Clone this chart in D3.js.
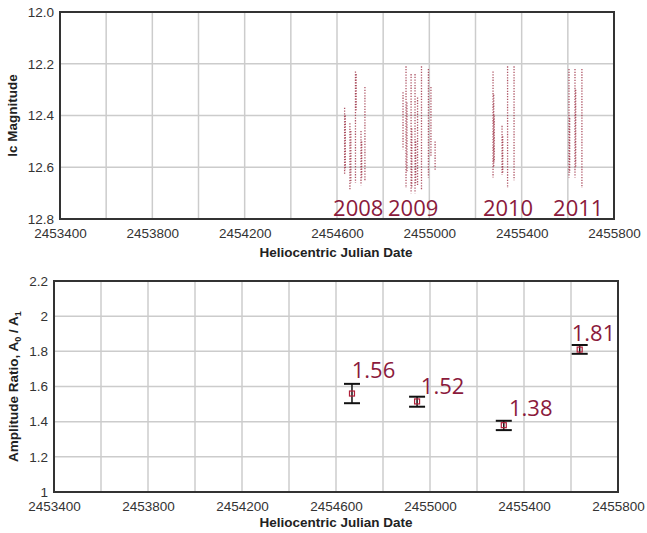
<!DOCTYPE html>
<html><head><meta charset="utf-8">
<script src="https://cdn.jsdelivr.net/npm/d3@7"></script>
<style>body{margin:0;background:#fff}svg{display:block}</style>
</head><body>
<svg id="c" width="647" height="533"></svg>
<script>
// ---- Data ----
const xTicks = [2453400, 2453800, 2454200, 2454600, 2455000, 2455400, 2455800];
const xGrid = [2453400,2453600,2453800,2454000,2454200,2454400,2454600,2454800,2455000,2455200,2455400,2455600,2455800];
const magTicks = [12.0, 12.2, 12.4, 12.6, 12.8];
const ratioTicks = [1, 1.2, 1.4, 1.6, 1.8, 2, 2.2];
// observing nights: [HJD, brightest mag, faintest mag]
const nights = [
  [2454633, 12.37, 12.63], [2454636, 12.40, 12.61], [2454656, 12.43, 12.69], [2454660, 12.46, 12.66],
  [2454680, 12.23, 12.66], [2454683, 12.24, 12.38], [2454704, 12.46, 12.67], [2454707, 12.50, 12.64],
  [2454721, 12.29, 12.65],
  [2454886, 12.31, 12.53], [2454899, 12.21, 12.68], [2454903, 12.35, 12.62], [2454921, 12.24, 12.70],
  [2454924, 12.45, 12.68], [2454938, 12.24, 12.70], [2454941, 12.50, 12.66], [2454949, 12.33, 12.67],
  [2454966, 12.21, 12.69], [2454996, 12.22, 12.64], [2455007, 12.29, 12.56], [2455025, 12.50, 12.61],
  [2455276, 12.23, 12.64], [2455279, 12.32, 12.60], [2455281, 12.40, 12.58], [2455315, 12.44, 12.63],
  [2455318, 12.48, 12.62], [2455339, 12.21, 12.68], [2455367, 12.21, 12.65],
  [2455605, 12.22, 12.64], [2455608, 12.41, 12.62], [2455631, 12.22, 12.64], [2455634, 12.30, 12.60],
  [2455661, 12.22, 12.68]
];
const seasons = ["2008", "2009", "2010", "2011"];
const seasonLabelX = [2454583, 2454821, 2455232, 2455536];
const seasonLabelMag = 12.788;

const ratioDates = [2454668, 2454945, 2455314, 2455637];
const ratios = [1.56, 1.515, 1.38, 1.81];
const ratioLo = [1.505, 1.485, 1.352, 1.786];
const ratioHi = [1.615, 1.542, 1.405, 1.836];
const ratioLabels = ["1.56", "1.52", "1.38", "1.81"];
const ratioLabelX = [2454667, 2454961, 2455336, 2455603];
const ratioLabelY = [1.648, 1.557, 1.434, 1.859];

// ---- Drawing ----
const svg = d3.select("#c");
const red = "#8b1a3c";
const tickFont = "Liberation Sans, Arial, sans-serif";

function bounds(x, y) {
  const [x0, x1] = x.range();
  const yr = y.range();
  return [x0, x1, Math.min(...yr), Math.max(...yr)];
}
function frame(g, x, y, yTicks, yFmt) {
  const [x0, x1, yTop, yBot] = bounds(x, y);
  g.append("g").selectAll("line").data(xGrid).join("line")
    .attr("x1", d => x(d)).attr("x2", d => x(d)).attr("y1", yTop).attr("y2", yBot)
    .attr("stroke", "#cccccc").attr("stroke-width", 1.5);
  g.append("g").selectAll("line").data(yTicks).join("line")
    .attr("x1", x0).attr("x2", x1).attr("y1", d => y(d)).attr("y2", d => y(d))
    .attr("stroke", "#cccccc").attr("stroke-width", 1.5);
  const ya = d3.axisLeft(y).tickValues(yTicks).tickFormat(yFmt).tickSize(0).tickPadding(6);
  g.append("g").attr("transform", `translate(${x0},0)`).call(ya)
    .call(a => a.select(".domain").remove())
    .selectAll("text").attr("font-family", tickFont).attr("font-size", 13.5).attr("fill", "#333");
  const xa = d3.axisBottom(x).tickValues(xTicks).tickFormat(d3.format("d")).tickSize(0).tickPadding(9);
  g.append("g").attr("transform", `translate(0,${yBot})`).call(xa)
    .call(a => a.select(".domain").remove())
    .selectAll("text").attr("font-family", tickFont).attr("font-size", 13.5).attr("fill", "#333");
}
function border(g, x, y) {
  const [x0, x1, yTop, yBot] = bounds(x, y);
  g.append("rect").attr("x", x0).attr("y", yTop).attr("width", x1 - x0).attr("height", yBot - yTop)
    .attr("fill", "none").attr("stroke", "#333").attr("stroke-width", 2);
}

// Top panel
const xT = d3.scaleLinear().domain([2453400, 2455800]).range([60, 614]);
const yT = d3.scaleLinear().domain([12.0, 12.8]).range([12, 219]);
const gT = svg.append("g");
frame(gT, xT, yT, magTicks, d3.format(".1f"));
gT.append("g").selectAll("line").data(nights).join("line")
  .attr("x1", d => xT(d[0])).attr("x2", d => xT(d[0]))
  .attr("y1", d => yT(d[1])).attr("y2", d => yT(d[2]))
  .attr("stroke", "#9a2c40").attr("stroke-width", 1.3).attr("stroke-opacity", 0.8)
  .attr("stroke-dasharray", "1.3,1.4");
gT.append("g").selectAll("text").data(seasons).join("text")
  .attr("x", (d, i) => xT(seasonLabelX[i])).attr("y", yT(seasonLabelMag))
  .attr("font-family", "Open Sans, sans-serif").attr("font-size", 22).attr("fill", red).text(d => d);
border(gT, xT, yT);
gT.append("text").attr("x", 336).attr("y", 257).attr("text-anchor", "middle")
  .attr("font-family", tickFont).attr("font-weight", "bold").attr("font-size", 13.5).attr("fill", "#222")
  .text("Heliocentric Julian Date");
gT.append("text").attr("transform", "translate(17,115.5) rotate(-90)").attr("text-anchor", "middle")
  .attr("font-family", tickFont).attr("font-weight", "bold").attr("font-size", 13.5).attr("fill", "#222")
  .text("Ic Magnitude");

// Bottom panel
const xB = d3.scaleLinear().domain([2453400, 2455800]).range([54, 618]);
const yB = d3.scaleLinear().domain([1, 2.2]).range([492, 281]);
const gB = svg.append("g");
frame(gB, xB, yB, ratioTicks, d3.format("~g"));
const eb = gB.append("g").selectAll("g").data(ratios).join("g");
eb.append("line").attr("x1", (d, i) => xB(ratioDates[i])).attr("x2", (d, i) => xB(ratioDates[i]))
  .attr("y1", (d, i) => yB(ratioLo[i])).attr("y2", (d, i) => yB(ratioHi[i]))
  .attr("stroke", "#111").attr("stroke-width", 1.5);
[ratioLo, ratioHi].forEach(arr => {
  eb.append("line").attr("x1", (d, i) => xB(ratioDates[i]) - 8).attr("x2", (d, i) => xB(ratioDates[i]) + 8)
    .attr("y1", (d, i) => yB(arr[i])).attr("y2", (d, i) => yB(arr[i]))
    .attr("stroke", "#111").attr("stroke-width", 2);
});
eb.append("rect").attr("x", (d, i) => xB(ratioDates[i]) - 2.5).attr("y", d => yB(d) - 2.5)
  .attr("width", 5).attr("height", 5).attr("fill", "none").attr("stroke", "#b0203a").attr("stroke-width", 1.2);
gB.append("g").selectAll("text").data(ratioLabels).join("text")
  .attr("x", (d, i) => xB(ratioLabelX[i])).attr("y", (d, i) => yB(ratioLabelY[i]))
  .attr("font-family", "Open Sans, sans-serif").attr("font-size", 22).attr("fill", red).text(d => d);
border(gB, xB, yB);
gB.append("text").attr("x", 336).attr("y", 527).attr("text-anchor", "middle")
  .attr("font-family", tickFont).attr("font-weight", "bold").attr("font-size", 13.5).attr("fill", "#222")
  .text("Heliocentric Julian Date");
const yl = gB.append("text").attr("transform", "translate(18,386.5) rotate(-90)").attr("text-anchor", "middle")
  .attr("font-family", tickFont).attr("font-weight", "bold").attr("font-size", 13.5).attr("fill", "#222");
yl.append("tspan").text("Amplitude Ratio, A");
yl.append("tspan").attr("dy", 3).attr("font-size", 9).text("0");
yl.append("tspan").attr("dy", -3).text(" / A");
yl.append("tspan").attr("dy", 3).attr("font-size", 9).text("1");
</script>
</body></html>
